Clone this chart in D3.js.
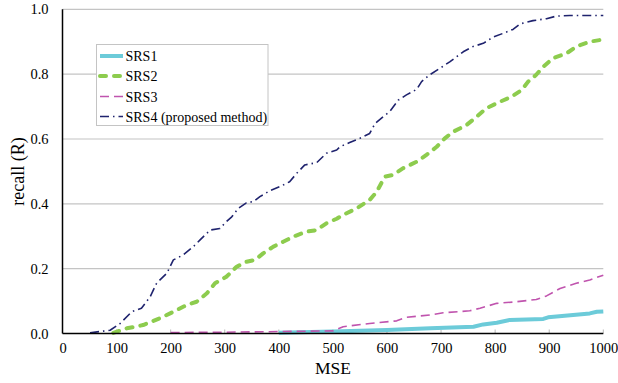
<!DOCTYPE html>
<html><head><meta charset="utf-8">
<script src="https://cdn.jsdelivr.net/npm/d3@7"></script>
<style>body{margin:0;background:#fff}svg{display:block}svg text{font-family:"Liberation Serif","Times New Roman","DejaVu Serif",serif !important}</style>
</head><body><svg id="c" width="618" height="383"></svg>
<script>
const xTicks = [0,100,200,300,400,500,600,700,800,900,1000];
const yTicks = [0,0.2,0.4,0.6,0.8,1.0];
const seriesNames = ["SRS1","SRS2","SRS3","SRS4 (proposed method)"];
const srs1 = [[400,0.002],[500,0.006],[600,0.011],[680,0.016],[760,0.021],[778,0.028],[803,0.033],[827,0.042],[889,0.045],[898,0.05],[975,0.062],[988,0.067],[1000,0.068]];
const srs2 = [[94,0.002],[119,0.016],[149,0.026],[180,0.047],[205,0.067],[230,0.088],[248,0.098],[267,0.124],[282,0.155],[303,0.175],[322,0.206],[340,0.221],[356,0.227],[371,0.247],[390,0.268],[408,0.283],[427,0.299],[451,0.314],[470,0.319],[488,0.34],[507,0.354],[519,0.366],[544,0.386],[568,0.412],[581,0.437],[596,0.484],[611,0.489],[630,0.51],[655,0.53],[673,0.551],[692,0.576],[707,0.602],[722,0.622],[747,0.643],[766,0.669],[784,0.695],[809,0.715],[830,0.73],[849,0.751],[861,0.777],[876,0.798],[889,0.823],[907,0.849],[932,0.864],[950,0.885],[975,0.9],[1000,0.907]];
const srs3 = [[200,0.003],[300,0.004],[400,0.006],[500,0.008],[519,0.021],[568,0.031],[618,0.039],[636,0.05],[679,0.057],[704,0.064],[753,0.07],[772,0.078],[803,0.093],[840,0.098],[876,0.105],[895,0.116],[920,0.139],[950,0.155],[975,0.165],[1000,0.18]];
const srs4 = [[51,0.002],[69,0.006],[88,0.01],[106,0.03],[128,0.067],[146,0.078],[162,0.113],[174,0.155],[193,0.186],[205,0.227],[223,0.242],[242,0.268],[254,0.288],[273,0.319],[291,0.324],[303,0.345],[313,0.36],[325,0.386],[340,0.403],[353,0.407],[365,0.422],[383,0.44],[402,0.453],[420,0.468],[433,0.494],[448,0.52],[470,0.527],[488,0.556],[507,0.566],[513,0.576],[531,0.589],[550,0.602],[568,0.617],[578,0.648],[593,0.669],[605,0.684],[621,0.72],[636,0.736],[655,0.753],[664,0.777],[679,0.798],[698,0.818],[716,0.838],[729,0.854],[741,0.869],[759,0.885],[778,0.895],[796,0.914],[815,0.926],[833,0.938],[846,0.955],[870,0.965],[895,0.971],[913,0.979],[938,0.981],[1000,0.981]];
const seriesData = [srs1,srs2,srs3,srs4];

const styles = [
  {color:"#6CCBD9", width:4, dash:null, cap:"butt"},
  {color:"#8DCC4E", width:4, dash:"6,8", cap:"round"},
  {color:"#C054AE", width:1.6, dash:"9,5", cap:"butt"},
  {color:"#1F236E", width:1.6, dash:"9,4,1.5,4", cap:"butt"}
];
const FONT = "'Liberation Serif','Times New Roman','DejaVu Serif',serif";

const svg = d3.select("#c");
const x = d3.scaleLinear().domain([0,1000]).range([62.5,603.3]);
const y = d3.scaleLinear().domain([0,1]).range([333.5,9.3]);

svg.append("g").selectAll("line").data(yTicks.filter(d=>d>0)).join("line")
  .attr("x1",x(0)).attr("x2",x(1000)).attr("y1",d=>y(d)).attr("y2",d=>y(d))
  .attr("stroke","#C4C4C4").attr("stroke-width",1.2);

const xa = svg.append("g").attr("transform",`translate(0,${y(0)})`)
  .call(d3.axisBottom(x).tickValues(xTicks).tickSize(0).tickPadding(9).tickFormat(d3.format("d")));
xa.attr("font-family",FONT);
xa.select(".domain").remove();
xa.selectAll("text").attr("font-size",14.5).attr("fill","#000");
svg.append("g").selectAll("line").data(xTicks.slice(1)).join("line")
  .attr("x1",d=>x(d)).attr("x2",d=>x(d)).attr("y1",y(0)).attr("y2",y(0)-4)
  .attr("stroke","#B8B8B8").attr("stroke-width",1);

const ya = svg.append("g").attr("transform",`translate(${x(0)},0)`)
  .call(d3.axisLeft(y).tickValues(yTicks).tickSize(0).tickPadding(14).tickFormat(d3.format(".1f")));
ya.attr("font-family",FONT);
ya.select(".domain").remove();
ya.selectAll("text").attr("font-size",14.5).attr("fill","#000");

const line = d3.line().x(d=>x(d[0])).y(d=>y(d[1]));
seriesData.forEach((data,i)=>{
  const s = styles[i];
  svg.append("path").datum(data).attr("d",line).attr("fill","none")
    .attr("stroke",s.color).attr("stroke-width",s.width)
    .attr("stroke-dasharray",s.dash).attr("stroke-linecap",s.cap).attr("stroke-linejoin","round");
});

svg.append("line").attr("x1",x(0)).attr("x2",x(1000)).attr("y1",y(0)).attr("y2",y(0)).attr("stroke","#000").attr("stroke-width",1.5);
svg.append("line").attr("x1",x(0)).attr("x2",x(0)).attr("y1",y(1)).attr("y2",y(0)).attr("stroke","#000").attr("stroke-width",1.5);

svg.append("text").attr("x",(x(0)+x(1000))/2).attr("y",374).attr("text-anchor","middle").attr("font-family",FONT).attr("font-size",17.5).attr("fill","#000").text("MSE");
svg.append("text").attr("transform",`translate(24,${(y(0)+y(1))/2}) rotate(-90)`).attr("text-anchor","middle").attr("font-family",FONT).attr("font-size",18).attr("fill","#000").text("recall (R)");

const lg = svg.append("g").attr("font-family",FONT);
lg.append("rect").attr("x",96.5).attr("y",44.5).attr("width",171.5).attr("height",81).attr("fill","#fff").attr("stroke","#C4C4C4").attr("stroke-width",1);
const ly = [56,76,96.5,116.5];
seriesNames.forEach((n,i)=>{
  const s = styles[i];
  lg.append("line").attr("x1",100).attr("x2",123).attr("y1",ly[i]).attr("y2",ly[i])
    .attr("stroke",s.color).attr("stroke-width",s.width).attr("stroke-dasharray",s.dash).attr("stroke-linecap",s.cap);
  lg.append("text").attr("x",125.5).attr("y",ly[i]+5).attr("font-size",14).attr("fill","#000").text(n);
});
</script></body></html>
